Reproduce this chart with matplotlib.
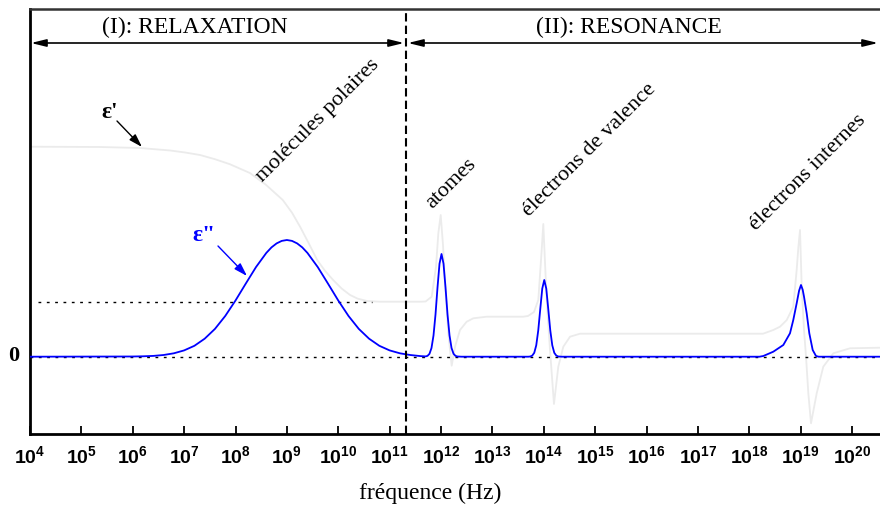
import numpy as np
import matplotlib
matplotlib.use("Agg")
import matplotlib.pyplot as plt

plt.rcParams['mathtext.fontset'] = 'custom'
plt.rcParams['mathtext.rm'] = 'Liberation Sans:bold'
plt.rcParams['mathtext.it'] = 'Liberation Sans:bold'
plt.rcParams['mathtext.bf'] = 'Liberation Sans:bold'

# ---------------- data (log10 of frequency in Hz, permittivity in arbitrary units) ----
tick_exponents = list(range(4, 21))
x_max_exponent = 20.545
boundary_exponent = 11.32      # relaxation / resonance boundary
eps_prime_high_relax = 5.5     # epsilon' level after the dipolar relaxation

# epsilon'' (loss) curve
eps2_logf = [4.0, 6.0, 6.2, 6.4, 6.6, 6.8, 7.0, 7.2, 7.4, 7.6, 7.8, 8.0, 8.2, 8.4, 8.6,
             8.7, 8.8, 8.9, 9.0, 9.1, 9.2, 9.3, 9.4, 9.6, 9.8, 10.0, 10.2, 10.4, 10.6,
             10.8, 11.0, 11.2, 11.4, 11.6,
             11.699, 11.737, 11.776, 11.815, 11.854, 11.893, 11.932, 11.971, 12.010,
             12.049, 12.088, 12.127, 12.166, 12.205, 12.244, 12.283, 12.321,
             12.40, 13.70,
             13.737, 13.776, 13.815, 13.854, 13.893, 13.932, 13.971, 14.010, 14.049,
             14.088, 14.127, 14.166, 14.205, 14.244, 14.283,
             14.35, 18.20,
             18.274, 18.468, 18.663, 18.793, 18.857, 18.923, 18.97, 19.007, 19.04,
             19.066, 19.118, 19.169, 19.235, 19.299, 19.35, 20.6]
eps2_vals = [0.0, 0.02, 0.04, 0.08, 0.17, 0.34, 0.63, 1.09, 1.80, 2.78, 4.07, 5.62, 7.31,
             8.97, 10.38, 10.93, 11.33, 11.58, 11.67, 11.58, 11.33, 10.93, 10.38, 8.97,
             7.31, 5.62, 4.07, 2.78, 1.80, 1.09, 0.63, 0.34, 0.17, 0.06,
             0.03, 0.08, 0.29, 0.87, 2.12, 4.22, 6.92, 9.30, 10.27,
             9.30, 6.92, 4.22, 2.12, 0.87, 0.29, 0.08, 0.02,
             0.0, 0.0,
             0.02, 0.11, 0.39, 1.14, 2.63, 4.76, 6.81, 7.67, 6.81,
             4.76, 2.63, 1.14, 0.39, 0.11, 0.02,
             0.0, 0.0,
             0.07, 0.5, 1.17, 2.34, 3.67, 5.34, 6.6, 7.17, 6.7,
             6.0, 4.34, 2.34, 0.67, 0.07, 0.0, 0.0]

# epsilon' (real part) curve
eps1_logf = [4.0, 5.36, 6.14, 6.73, 7.02, 7.31, 7.60, 7.89, 8.28, 8.59, 8.92, 9.10, 9.26,
             9.43, 9.59, 9.74, 9.90, 10.07, 10.23, 10.38, 10.56, 10.81, 11.60, 11.70,
             11.819, 11.903, 11.948, 11.994, 12.039, 12.078, 12.142, 12.208, 12.273,
             12.370, 12.500, 12.629, 12.889, 13.60,
             13.693, 13.810, 13.894, 13.960, 13.991, 14.057, 14.122, 14.199, 14.283,
             14.381, 14.511, 14.706, 15.095, 18.268,
             18.468, 18.599, 18.73, 18.857, 18.923, 18.957, 18.988, 19.021, 19.066,
             19.105, 19.150, 19.202, 19.313, 19.441, 19.636, 19.961, 20.545, 20.6]
eps1_vals = [21.0, 20.97, 20.87, 20.62, 20.42, 20.17, 19.75, 19.25, 18.37, 17.2, 15.67,
             14.4, 12.97, 11.3, 9.67, 8.6, 7.67, 6.8, 6.17, 5.8, 5.57, 5.5, 5.5, 5.52,
             6.0, 9.0, 12.34, 14.17, 11.17, 7.34, 2.34, -0.9, 1.0,
             2.67, 3.5, 3.84, 4.0, 4.0,
             4.07, 4.47, 5.67, 10.67, 13.27, 5.67, 0.67, -4.73, -1.0,
             1.0, 2.0, 2.3, 2.3, 2.3,
             2.67, 3.0, 3.67, 5.0, 8.67, 11.0, 12.67, 7.0, 2.67,
             0.0, -3.66, -6.66, -3.66, -1.0, 0.34, 0.84, 0.9, 0.9]

region_labels = ["(I): RELAXATION", "(II): RESONANCE"]
mechanism_labels = ["molécules polaires", "atomes", "électrons de valence", "électrons internes"]

# ---------------- figure ----------------
W, H = 880, 508
fig = plt.figure(figsize=(W / 100, H / 100), dpi=100)


def fx(px):
    return px / W


def fy(py):
    return 1 - py / H


ax = fig.add_axes([fx(30), fy(434), (W - 30) / W, (434 - 9) / H])
ax.set_xscale('log')
ax.set_xlim(10 ** 4, 10 ** x_max_exponent)
ax.set_ylim(-7.73, 34.77)

f1 = np.power(10.0, eps1_logf)
f2 = np.power(10.0, eps2_logf)

ax.plot(f1, eps1_vals, color='#ebebeb', lw=1.3, zorder=2)
ax.axhline(0, color='black', lw=1.0, ls=(0, (2, 4)), zorder=3)
ax.plot([10 ** 4.156, 10 ** 10.657], [eps_prime_high_relax] * 2, color='black', lw=1.0,
        ls=(0, (2, 4)), zorder=3)
ax.plot(f2, eps2_vals, color='#0000ff', lw=1.3, zorder=4)
ax.axvline(10 ** boundary_exponent, color='black', lw=1.5, ls=(0, (4, 2)), zorder=5)

# axes styling
for s in ['left', 'bottom']:
    ax.spines[s].set_linewidth(2.0)
    ax.spines[s].set_color('black')
ax.spines['top'].set_linewidth(1.8)
ax.spines['top'].set_color('#333333')
ax.spines['right'].set_visible(False)

ax.set_xticks([10.0 ** e for e in tick_exponents])
ax.set_xticklabels([r'$10^{%d}$' % e for e in tick_exponents])
ax.xaxis.set_minor_locator(matplotlib.ticker.NullLocator())
ax.tick_params(axis='x', direction='in', length=6, width=1.3, pad=8, labelsize=14)
ax.set_yticks([])

serif = ['Liberation Serif', 'DejaVu Serif']

# x label
fig.text(fx(430), fy(493), "fréquence (Hz)", ha='center', va='center', family=serif,
         fontsize=17)
# zero label
fig.text(fx(14), fy(356), "0", ha='center', va='center', family=serif, fontsize=16,
         fontweight='bold')

# region headers and arrows
fig.text(fx(195), fy(27), region_labels[0], ha='center', va='center', family=serif,
         fontsize=17)
fig.text(fx(629), fy(27), region_labels[1], ha='center', va='center', family=serif,
         fontsize=17)
arrow_style = '<|-|>,head_length=0.9,head_width=0.22'
ax.annotate('', xy=(fx(31), fy(43)), xytext=(fx(404), fy(43)), xycoords='figure fraction',
            textcoords='figure fraction', annotation_clip=False,
            arrowprops=dict(arrowstyle=arrow_style, color='black', lw=1.2,
                            shrinkA=0, shrinkB=0, mutation_scale=10))
ax.annotate('', xy=(fx(408), fy(43)), xytext=(fx(878), fy(43)), xycoords='figure fraction',
            textcoords='figure fraction', annotation_clip=False,
            arrowprops=dict(arrowstyle=arrow_style, color='black', lw=1.2,
                            shrinkA=0, shrinkB=0, mutation_scale=10))

# rotated mechanism labels
label_anchors = [(262, 182), (432, 209), (529, 217), (756, 231)]
for txt, (px, py) in zip(mechanism_labels, label_anchors):
    fig.text(fx(px), fy(py), txt, rotation=45, rotation_mode='anchor', ha='left',
             va='baseline', family=serif, fontsize=16)

# epsilon labels with arrows
fig.text(fx(110), fy(112), "ε'", ha='center', va='center', family=serif, fontsize=17,
         fontweight='bold', color='black')
ax.annotate('', xy=(fx(142), fy(147)), xytext=(fx(117), fy(121)), xycoords='figure fraction',
            textcoords='figure fraction', annotation_clip=False,
            arrowprops=dict(arrowstyle='-|>,head_length=0.8,head_width=0.25', color='black',
                            lw=1.0, shrinkA=0, shrinkB=0, mutation_scale=10))
fig.text(fx(204), fy(235), 'ε"', ha='center', va='center', family=serif, fontsize=17,
         fontweight='bold', color='#0000ff')
ax.annotate('', xy=(fx(247), fy(276)), xytext=(fx(218), fy(246)), xycoords='figure fraction',
            textcoords='figure fraction', annotation_clip=False,
            arrowprops=dict(arrowstyle='-|>,head_length=0.8,head_width=0.25', color='#0000ff',
                            lw=1.0, shrinkA=0, shrinkB=0, mutation_scale=10))

fig.savefig('out.png', dpi=100)
